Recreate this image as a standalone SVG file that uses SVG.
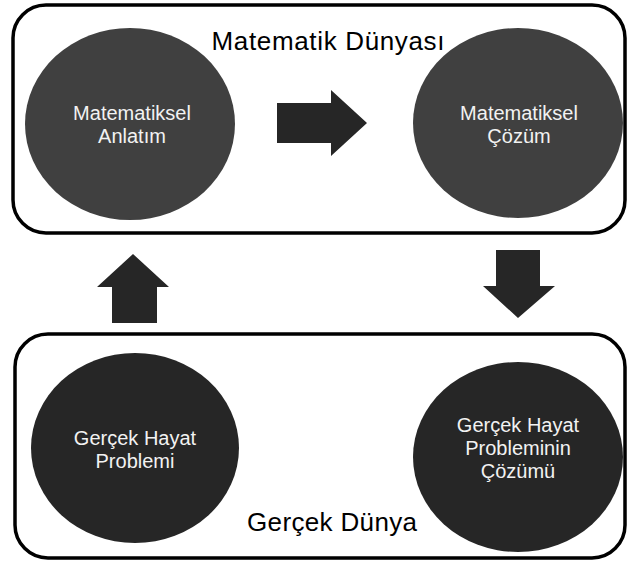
<svg xmlns="http://www.w3.org/2000/svg" width="629" height="563" viewBox="0 0 629 563">
  <style>
    .frame { fill: #ffffff; stroke: #000000; stroke-width: 3.5; }
    .title { font-family: "Liberation Sans", Arial, sans-serif; font-size: 26px; fill: #000000; text-anchor: middle; }
    .label { font-family: "Liberation Sans", Arial, sans-serif; font-size: 20px; fill: #f2f2f2; text-anchor: middle; }
    .math { fill: #404040; }
    .real { fill: #262626; }
    .arrow { fill: #262626; }
  </style>

  <!-- Mathematical world frame -->
  <g id="matematik-dunyasi">
    <rect class="frame" x="13" y="5" width="612" height="228" rx="33" ry="33"/>
    <text class="title" x="328" y="50" textLength="233" lengthAdjust="spacing">Matematik Dünyası</text>
  </g>

  <!-- Real world frame -->
  <g id="gercek-dunya">
    <rect class="frame" x="15" y="334" width="610" height="224" rx="33" ry="33"/>
    <text class="title" x="332" y="531" textLength="170" lengthAdjust="spacing">Gerçek Dünya</text>
  </g>

  <g id="matematiksel-anlatim">
    <ellipse class="math" cx="130" cy="124" rx="105" ry="96"/>
    <text class="label" x="132" y="120">Matematiksel</text>
    <text class="label" x="132" y="143">Anlatım</text>
  </g>

  <g id="matematiksel-cozum">
    <ellipse class="math" cx="518" cy="123" rx="105" ry="95"/>
    <text class="label" x="519" y="120">Matematiksel</text>
    <text class="label" x="519" y="143">Çözüm</text>
  </g>

  <g id="gercek-hayat-problemi">
    <ellipse class="real" cx="135" cy="448" rx="104" ry="95"/>
    <text class="label" x="135" y="445">Gerçek Hayat</text>
    <text class="label" x="135" y="468">Problemi</text>
  </g>

  <g id="gercek-hayat-probleminin-cozumu">
    <ellipse class="real" cx="518" cy="457" rx="105" ry="95"/>
    <text class="label" x="518" y="432">Gerçek Hayat</text>
    <text class="label" x="518" y="455">Probleminin</text>
    <text class="label" x="518" y="478">Çözümü</text>
  </g>

  <!-- Block arrows between the stages -->
  <g id="connectors">
    <polygon class="arrow" points="277,103 331,103 331,90 367,123 331,156 331,143 277,143"/>
    <polygon class="arrow" points="496,250 540,250 540,286 555,286 518,318 483,286 496,286"/>
    <polygon class="arrow" points="112,323 157,323 157,287 169,287 133,254 97,287 112,287"/>
  </g>
</svg>
